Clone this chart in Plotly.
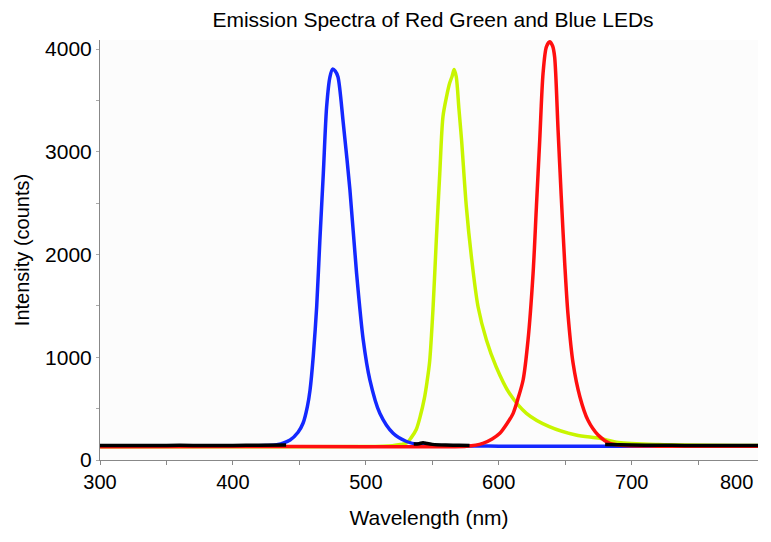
import plotly.graph_objects as go

# Wavelength (nm) / intensity (counts)
green_x = [300, 400, 500, 520, 526, 530.6, 534, 538, 541, 544, 546, 548, 550.6, 553, 555.6, 558,
           560.7, 563, 565, 566.4, 568, 570, 572, 575.6, 579.4, 584.4, 590.7, 598, 608, 620.8,
           638, 658, 676, 690, 720, 795]
green_y = [130, 130, 132, 140, 150, 165, 215, 300, 430, 600, 760, 960, 1492, 2141, 2790, 3341,
           3536, 3666, 3740, 3802, 3730, 3420, 3114, 2465, 1979, 1492, 1168, 908, 649, 454,
           324, 243, 211, 170, 150, 140]

blue_x = [300, 350, 400, 425, 433, 443, 449, 452.8, 456, 458, 460.4, 463, 465.4, 468, 470.5, 473,
          475, 477, 479, 483, 488, 493, 498, 503, 510.5, 520.5, 530.6, 540, 560, 600, 650, 700,
          750, 795]
blue_y = [138, 137, 138, 140, 148, 195, 270, 360, 520, 680, 1005, 1490, 2140, 2790, 3440, 3730,
          3805, 3785, 3730, 3280, 2630, 1820, 1170, 780, 455, 260, 180, 150, 138, 135, 135, 134,
          135, 135]

red_x = [300, 400, 500, 560, 575.7, 588, 595, 600.8, 606, 610.8, 614.5, 618.3, 622, 625.8, 628.3,
         630.8, 633.3, 635.8, 638.3, 640.5, 642, 644.6, 647, 649.6, 652, 655.9, 661, 667, 674.7,
         683.5, 695, 720, 795]
red_y = [130, 131, 130, 130, 133, 162, 205, 260, 350, 454, 600, 779, 1168, 1817, 2465,
         3114, 3763, 4022, 4071, 4030, 3925, 3212, 2562, 1914, 1428, 941, 616, 389, 243,
         162, 140, 135, 135]

black_x = [300, 320, 340, 360, 380, 400, 420, 440, None, 536, 540, 543, 546, 550, 560, 570, 578,
           None, 680, 700, 720, 740, 760, 780, 795]
black_y = [140, 142, 141, 143, 141, 142, 143, 145, None, 155, 158, 168, 160, 152, 145, 143, 142,
           None, 150, 145, 143, 142, 141, 142, 140]

x_ticks = [300, 400, 500, 600, 700]
y_ticks = [0, 1000, 2000, 3000, 4000]

FONT = "Liberation Sans, Arial, Helvetica, sans-serif"

fig = go.Figure()
for xs, ys, col in [(green_x, green_y, "rgb(200,245,0)"),
                    (blue_x, blue_y, "rgb(20,40,255)"),
                    (red_x, red_y, "rgb(255,15,15)"),
                    (black_x, black_y, "rgb(0,0,0)")]:
    fig.add_trace(go.Scatter(x=xs, y=ys, mode="lines",
                             line=dict(color=col, width=3.5, shape="spline", smoothing=0.8),
                             connectgaps=False, showlegend=False, hoverinfo="skip"))

fig.update_layout(
    width=771, height=542,
    margin=dict(l=100, r=13, t=40, b=82),
    paper_bgcolor="white",
    plot_bgcolor="#fcfcfc",
    font=dict(family=FONT, color="black"),
    title=dict(text="Emission Spectra of Red Green and Blue LEDs",
               font=dict(size=21, color="black"),
               xref="container", x=433 / 771, xanchor="center",
               yref="container", y=1 - 20 / 542, yanchor="middle"),
    xaxis=dict(range=[300, 795], tickvals=x_ticks, ticks="outside", ticklen=4,
               tickcolor="#888", showline=True, linecolor="#888", linewidth=1,
               showgrid=False, zeroline=False, tickfont=dict(size=20),
               minor=dict(dtick=50, tick0=300, ticks="outside", ticklen=4, tickcolor="#888", showgrid=False),
               title=dict(text="Wavelength (nm)", font=dict(size=21), standoff=18)),
    yaxis=dict(range=[0, 4088], tickvals=y_ticks, ticks="outside", ticklen=3,
               tickcolor="#aaa", showline=True, linecolor="#888", linewidth=1,
               showgrid=False, zeroline=False, tickfont=dict(size=21),
               minor=dict(dtick=500, ticks="outside", ticklen=3, tickcolor="#aaa", showgrid=False),
               title=dict(text="Intensity (counts)", font=dict(size=20), standoff=10)),
    annotations=[dict(text="800", xref="paper", yref="paper", x=(736 - 100) / 658, y=0,
                      xanchor="center", yanchor="top", yshift=-9, showarrow=False,
                      font=dict(size=20, color="black"))],
)

fig.write_html("out.html")
